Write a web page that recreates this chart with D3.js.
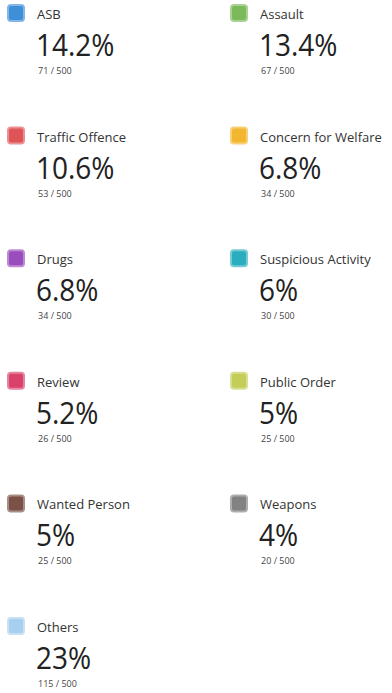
<!DOCTYPE html>
<html>
<head>
<meta charset="utf-8">
<script src="https://cdn.jsdelivr.net/npm/d3@7"></script>
<style>
  body { margin: 0; background: #fff; }
  text { font-family: "Open Sans", "Noto Sans", sans-serif; }
</style>
</head>
<body>
<div id="chart"></div>
<script>
var categories = ["ASB", "Assault", "Traffic Offence", "Concern for Welfare", "Drugs",
  "Suspicious Activity", "Review", "Public Order", "Wanted Person", "Weapons", "Others"];
var counts = [71, 67, 53, 34, 34, 30, 26, 25, 25, 20, 115];
var total = 500;
var colors = ["#3f8fd8", "#7cb95b", "#df5557", "#f2b630", "#9a4dbd",
  "#2aadbf", "#d9426d", "#c2ce58", "#7b5147", "#828282", "#a9cfee"];

var width = 392, height = 693;

var data = categories.map(function (c, i) {
  return { name: c, count: counts[i], color: colors[i], col: i % 2, row: Math.floor(i / 2) };
});

var x = d3.scaleLinear().domain([0, 1]).range([7, 230]);
var y = d3.scaleLinear().domain([0, 5]).range([0, 613]);
var pct = d3.format(".1~f");

var svg = d3.select("#chart")
  .append("svg")
  .attr("width", width)
  .attr("height", height);

var card = svg.selectAll(".card")
  .data(data)
  .enter()
  .append("g")
  .attr("class", "card")
  .attr("transform", function (d) {
    return "translate(" + x(d.col) + "," + y(d.row) + ")";
  });

card.append("rect")
  .attr("x", 1)
  .attr("y", 5)
  .attr("width", 16)
  .attr("height", 16)
  .attr("rx", 3)
  .style("fill", function (d) { return d.color; })
  .style("stroke", function (d) { return d3.interpolateRgb(d.color, "#fff")(0.35); })
  .style("stroke-width", 2);

card.append("text")
  .attr("x", 30)
  .attr("y", 19)
  .style("font-size", "13px")
  .style("fill", "#333")
  .text(function (d) { return d.name; });

card.append("text")
  .attr("transform", "translate(29,56) scale(1,1.1)")
  .style("font-size", "28px")
  .style("font-weight", 400)
  .style("fill", "#222")
  .text(function (d) { return pct(d.count / total * 100) + "%"; });

card.append("text")
  .attr("x", 31)
  .attr("y", 74)
  .style("font-size", "9px")
  .style("fill", "#444")
  .text(function (d) { return d.count + " / " + total; });
</script>
</body>
</html>
